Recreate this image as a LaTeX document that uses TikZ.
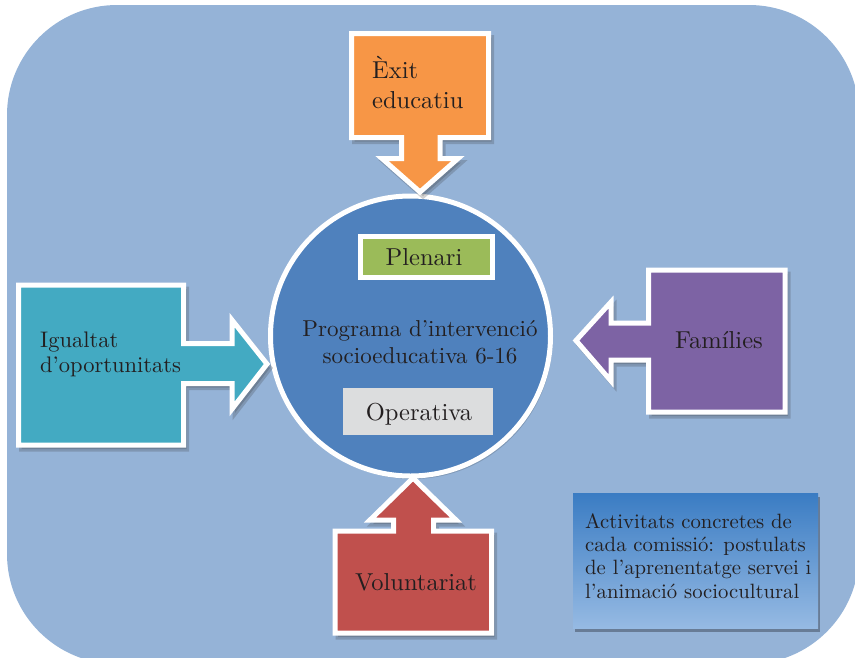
\documentclass[tikz,border=0pt]{standalone}
\usepackage{fontspec}
\setmainfont{lmroman10-regular.otf}
\definecolor{bgblue}{HTML}{95B3D7}
\definecolor{circblue}{HTML}{4F81BD}
\definecolor{orangef}{HTML}{F79646}
\definecolor{tealf}{HTML}{43AAC2}
\definecolor{purplef}{HTML}{7D63A4}
\definecolor{redf}{HTML}{C0504D}
\definecolor{greenf}{HTML}{9BBB59}
\definecolor{grayf}{HTML}{DCDDDE}
\definecolor{txt}{HTML}{231F20}
\definecolor{gradtop}{HTML}{3A7CC3}
\definecolor{gradbot}{HTML}{96BAE3}
\begin{document}
\begin{tikzpicture}[x=1pt,y=-1pt,
  shapeshadow/.style={preaction={draw=black!80, fill=black!80, line width=5pt, line join=miter, opacity=0.22, transform canvas={shift={(3pt,-4pt)}}}},
  arrowshape/.style={draw=white, line width=5pt, line join=miter, shapeshadow},
  lbl/.style={text=txt, inner sep=0pt, font=\fontsize{24.5}{30}\selectfont},
  innerbox/.style={draw=white, line width=5pt, inner sep=0pt}
]
\useasboundingbox (0,0) rectangle (855,657);
% background
\fill[bgblue, rounded corners=110pt] (7,5) rectangle (859,664);

% central circle
\node[circle, fill=circblue, draw=white, line width=5pt, minimum size=280pt, inner sep=0pt,
  preaction={fill=black, opacity=0.15, transform canvas={shift={(2pt,-3pt)}}}] (prog) at (410.5,336) {};

% top arrow
\path[arrowshape, fill=orangef] (351.5,33.5) -- (488.5,33.5) -- (488.5,137.5) -- (440,137.5) -- (440,158.5) -- (458,158.5) -- (420,192) -- (382,158.5) -- (401.5,158.5) -- (401.5,137.5) -- (351.5,137.5) -- cycle;
% left arrow
\path[arrowshape, fill=tealf] (18.5,285) -- (183.5,285) -- (183.5,343.5) -- (232,343.5) -- (232,320) -- (267,364) -- (232,409) -- (232,383.5) -- (183.5,383.5) -- (183.5,445) -- (18.5,445) -- cycle;
% right arrow
\path[arrowshape, fill=purplef] (785,270) -- (785,412) -- (648.5,412) -- (648.5,360) -- (611,360) -- (611,381) -- (576,340.5) -- (611,302) -- (611,323) -- (648.5,323) -- (648.5,270) -- cycle;
% bottom arrow
\path[arrowshape, fill=redf] (335,531) -- (393.5,531) -- (393.5,520) -- (370,520) -- (413,478) -- (456,520) -- (433.5,520) -- (433.5,531) -- (491.5,531) -- (491.5,633) -- (335,633) -- cycle;

% inner boxes
\node[innerbox, fill=greenf, minimum width=132pt, minimum height=41pt] (plenari) at (426,256.5) {};
\node[fill=grayf, inner sep=0pt, minimum width=150pt, minimum height=47pt] (operativa) at (418,411.5) {};

% activities box
\node[inner sep=0pt, minimum width=245pt, minimum height=135pt, top color=gradtop, bottom color=gradbot,
  preaction={fill=black, opacity=0.3, transform canvas={shift={(2pt,-4pt)}}}] (activ) at (695.5,560.5) {};

% texts (multi-line nodes are anchored at the baseline of their last line)
\node[lbl, anchor=base west, align=left] (exit) at (372,108) {Èxit\\educatiu};
\node[lbl, anchor=base west, align=left, font=\fontsize{22.5}{25}\selectfont] (igualtat) at (40,372) {Igualtat\\d’oportunitats};
\node[lbl, anchor=base] (families) at (719,348) {Famílies};
\node[lbl, anchor=base] (voluntariat) at (416,590) {Voluntariat};
\node[lbl, anchor=base] (plenaritext) at (424,265) {Plenari};
\node[lbl, anchor=base] (operativatext) at (419,420) {Operativa};
\node[lbl, anchor=base, align=center, font=\fontsize{23}{26.7}\selectfont] (progtext) at (420,363.5) {Programa d’intervenció\\socioeducativa 6-16};
\node[lbl, anchor=base west, align=left, font=\fontsize{20.7}{23.3}\selectfont] (activtext) at (585,598) {Activitats concretes de\\cada comissió: postulats\\de l’aprenentatge servei i\\l’animació sociocultural};
\end{tikzpicture}
\end{document}
